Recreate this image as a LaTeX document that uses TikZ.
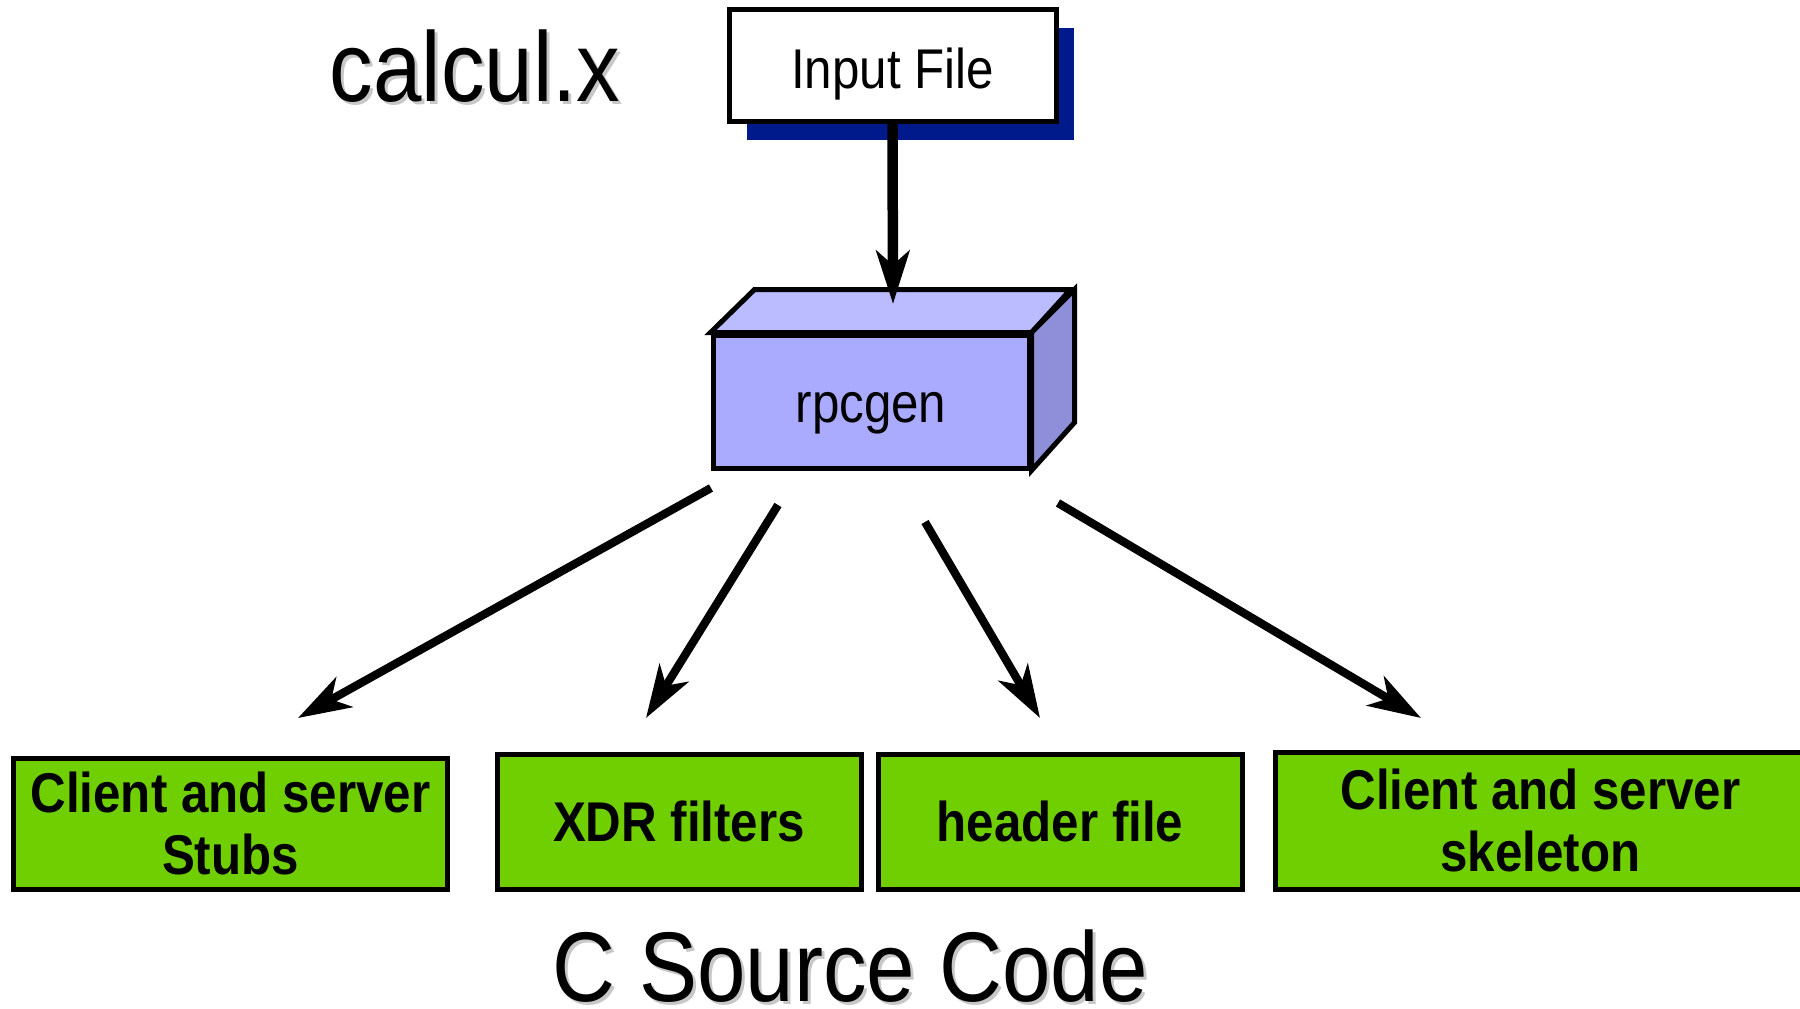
\documentclass[tikz,border=0pt]{standalone}
\usepackage{fontspec}
\setmainfont{Liberation Sans}[FakeStretch=0.88]
\usetikzlibrary{arrows.meta,shadows}
\definecolor{navyshadow}{RGB}{0,26,140}
\definecolor{frontblue}{RGB}{170,170,255}
\definecolor{topblue}{RGB}{187,187,255}
\definecolor{sideblue}{RGB}{143,143,217}
\definecolor{boxgreen}{RGB}{112,207,0}
\begin{document}
\begin{tikzpicture}[x=0.4pt,y=-0.4pt,
  bigtext/.style={font=\fontsize{39.6}{44}\selectfont, inner sep=0pt, anchor=base},
  txtshadow/.style={bigtext, text=black!22},
  inputbox/.style={draw=black, line width=2pt, fill=white, inner sep=0pt,
    minimum width=130.8pt, minimum height=44.8pt,
    text height=18.8pt, text depth=0pt,
    font=\fontsize{22.4}{25}\selectfont,
    drop shadow={shadow xshift=7.2pt, shadow yshift=-7.6pt, fill=navyshadow, opacity=1}},
  frontface/.style={draw=black, line width=2pt, fill=frontblue, inner sep=0pt,
    minimum width=126.4pt, minimum height=53.2pt,
    text height=16.4pt, text depth=0pt,
    font=\fontsize{22.4}{25}\selectfont},
  face/.style={draw=black, line width=2pt, line join=miter},
  greenbox/.style={draw=black, line width=2pt, fill=boxgreen, inner sep=0pt,
    align=center, font=\bfseries\fontsize{22.4}{24.6}\selectfont},
  flow/.style={line width=3.3pt, -{Stealth[length=21.2pt,width=13.6pt,inset=6pt]}},
  vflow/.style={line width=4.2pt, -{Stealth[length=21.2pt,width=13.2pt,inset=5.6pt]}}
]
\useasboundingbox (0,0) rectangle (1800,1008);
\clip (0,0) rectangle (1800,1008);

% titles
\node[txtshadow] (calcsh) at (478,104) {calcul.x};
\node[bigtext] (calc) at (475,101) {calcul.x};
\node[txtshadow] (srcsh) at (853,1004) {C Source Code};
\node[bigtext] (src) at (850,1001) {C Source Code};

% input file
\node[inputbox] (inp) at (892.5,65) {Input File};

% rpcgen box
\node[frontface] (rpc) at (871,401.5) {rpcgen};
\filldraw[face, fill=topblue] (rpc.north west) -- ++(44,-43) -- ++(316,0) -- (rpc.north east) -- cycle;
\filldraw[face, fill=sideblue] (rpc.north east) -- ++(43,-43) -- ++(0,133) -- (rpc.south east) -- cycle;

% green boxes
\node[greenbox, minimum width=173.2pt, minimum height=52.4pt] (g1) at (230.5,823.5) {Client and server\\Stubs};
\node[greenbox, minimum width=145.6pt, minimum height=54pt] (g2) at (679,821.5) {XDR filters};
\node[greenbox, minimum width=145.6pt, minimum height=54pt] (g3) at (1060,821.5) {header file};
\node[greenbox, minimum width=212.4pt, minimum height=54.8pt] (g4) at (1540.5,820.5) {Client and server\\skeleton};

% connector end points
\coordinate (rtop) at (893,304);
\coordinate (s1) at (711,488);
\coordinate (e1) at (298,718);
\coordinate (s2) at (778,505);
\coordinate (e2) at (646,718);
\coordinate (s3) at (925,522);
\coordinate (e3) at (1040,718);
\coordinate (s4) at (1058,503);
\coordinate (e4) at (1421,718);

\draw[vflow] (inp.south) -- (rtop);
\draw[flow] (s1) -- (e1);
\draw[flow] (s2) -- (e2);
\draw[flow] (s3) -- (e3);
\draw[flow] (s4) -- (e4);
\end{tikzpicture}
\end{document}
